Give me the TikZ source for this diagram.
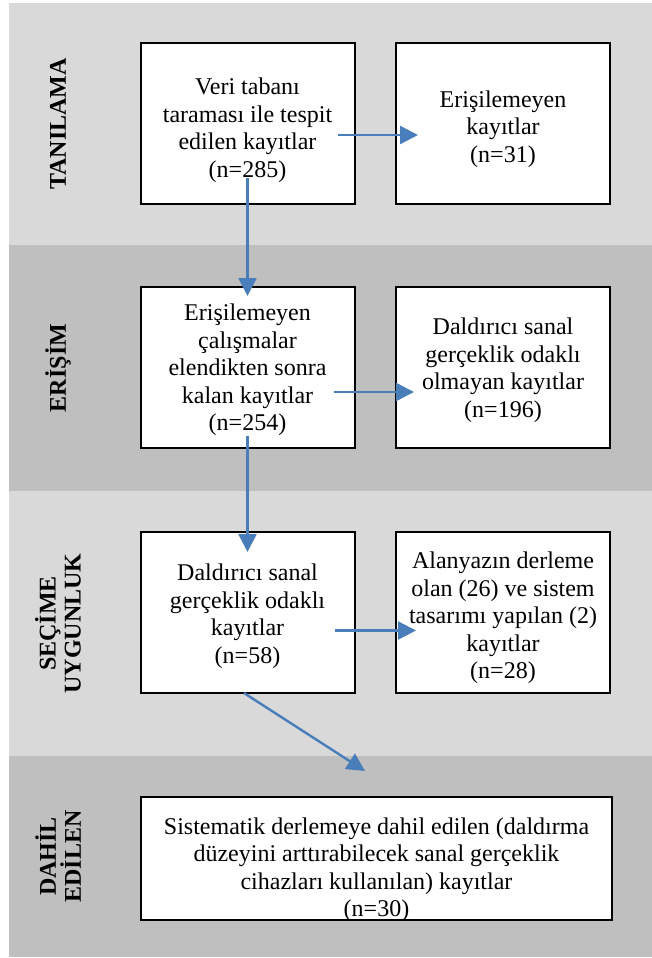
\documentclass[tikz,border=0pt]{standalone}
\usepackage{fontspec}
\setmainfont{Liberation Serif}
\usepackage{tikz}
\usetikzlibrary{arrows.meta, positioning, calc}
\definecolor{flowblue}{RGB}{74, 126, 187}
\definecolor{bandlight}{RGB}{217, 217, 217}
\definecolor{banddark}{RGB}{191, 191, 191}
\newcommand{\topgap}[1]{\rule{0pt}{#1}}

\begin{document}
\begin{tikzpicture}[
  x=0.5pt, y=-0.5pt,
  recbox/.style={draw, line width=1pt, fill=white, minimum width=107pt, minimum height=80.5pt, align=center, inner sep=2pt, font=\fontsize{12}{13.75}\selectfont},
  stagelabel/.style={rotate=90, align=center, font=\fontsize{12}{12.5}\selectfont\bfseries},
  flow/.style={draw=flowblue, line width=1.2pt, -{Triangle[length=9pt, width=9pt]}}
]
  \fill[white] (0,0) rectangle (652,958);
  \useasboundingbox (0,0) rectangle (652,958);

  % Stage bands
  \fill[bandlight] (9,3) rectangle (652,245);
  \fill[banddark] (9,245) rectangle (652,491);
  \fill[bandlight] (9,491) rectangle (652,756);
  \fill[banddark] (9,756) rectangle (652,957);

  % Stage 1: Tanilama
  \node[stagelabel] (lblTan) at (58,124) {TANILAMA};
  \node[recbox] (tanA) at (247.5,123.5) {
    \topgap{15pt}Veri tabanı\\
    taraması ile tespit\\
    edilen kayıtlar\\
    (n=285)
  };
  \node[recbox] (tanB) at (503,123.5) {
    \topgap{14pt}Erişilemeyen\\
    kayıtlar\\
    (n=31)
  };

  % Stage 2: Erisim
  \node[stagelabel] (lblEr) at (58,368) {ERİŞİM};
  \node[recbox] (erC) at (247.5,367.5) {
    \topgap{11pt}Erişilemeyen\\
    çalışmalar\\
    elendikten sonra\\
    kalan kayıtlar\\
    (n=254)
  };
  \node[recbox] (erD) at (503,367.5) {
    \topgap{11pt}Daldırıcı sanal\\
    gerçeklik odaklı\\
    olmayan kayıtlar\\
    (n=196)
  };

  % Stage 3: Secime uygunluk
  \node[stagelabel] (lblSel) at (58,623.5) {SEÇİME\\UYGUNLUK};
  \node[recbox] (selE) at (247.5,612.5) {
    \topgap{12pt}Daldırıcı sanal\\
    gerçeklik odaklı\\
    kayıtlar\\
    (n=58)
  };
  \node[recbox] (selF) at (503,612.5) {
    \topgap{14pt}Alanyazın derleme\\
    olan (26) ve sistem\\
    tasarımı yapılan (2)\\
    kayıtlar\\
    (n=28)
  };

  % Stage 4: Dahil edilen
  \node[stagelabel] (lblDah) at (58,856.5) {DAHİL\\EDİLEN};
  \node[recbox, minimum width=235.5pt, minimum height=61.5pt, inner sep=1pt] (dahG) at (376.5,858.5) {
    \topgap{17pt}Sistematik derlemeye dahil edilen (daldırma\\
    düzeyini arttırabilecek sanal gerçeklik\\
    cihazları kullanılan) kayıtlar\\
    \smash{(n=30)}
  };

  % Arrows
  \draw[flow] ([shift={(-18,11.5)}]tanA.east) -- ([shift={(23,11.5)}]tanB.west);
  \draw[flow] ([shift={(0,-27)}]tanA.south) -- ([shift={(0,10)}]erC.north);
  \draw[flow] ([shift={(-22,24.5)}]erC.east) -- ([shift={(19,24.5)}]erD.west);
  \draw[flow] ([shift={(0,-13)}]erC.south) -- ([shift={(0,21)}]selE.north);
  \draw[flow] ([shift={(-21,18)}]selE.east) -- ([shift={(21,18)}]selF.west);
  \draw[flow] ([shift={(-3.5,-1)}]selE.south) -- ([shift={(-11.5,-25)}]dahG.north);
\end{tikzpicture}
\end{document}
